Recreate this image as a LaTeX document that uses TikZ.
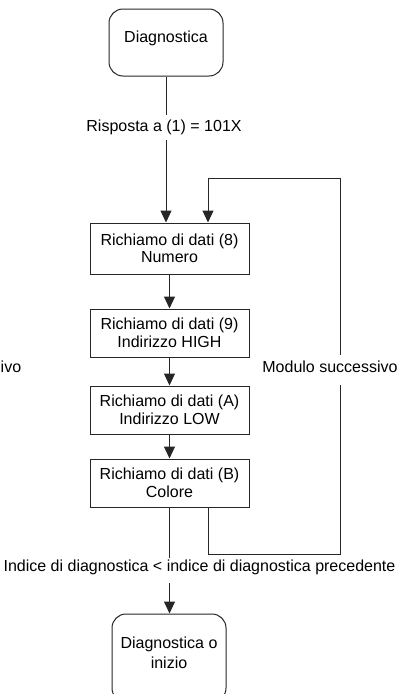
\documentclass[tikz,border=0pt]{standalone}
\usepackage{fontspec}
\setmainfont{Liberation Sans}
\usetikzlibrary{arrows.meta}
\newcommand{\dfs}{\fontsize{16pt}{17.5pt}\selectfont}
\begin{document}
\begin{tikzpicture}[x=1pt,y=-1pt,
  linecol/.style={draw=black!85, line width=1pt},
  box/.style={linecol, minimum width=159pt, minimum height=48pt, align=center, font=\dfs, inner sep=0pt},
  rbox/.style={linecol, rounded corners=14pt, minimum width=114pt, minimum height=67pt, inner sep=0pt},
  txt/.style={font=\dfs, align=center, inner sep=0pt},
  lbl/.style={fill=white, font=\dfs, inner xsep=1pt, text height=11.5pt},
  arr/.style={linecol, -{Triangle[length=12pt,width=11pt]}}]
\useasboundingbox (0,0) rectangle (398,694);
\clip (0,0) rectangle (398,694);
% nodes
\node[rbox] (diag) at (166,42.5) {};
\node[txt, anchor=base] (diagt) at (166,42.7) {Diagnostica};
\node[box, minimum height=51pt] (r8) at (169.5,248.5) {Richiamo di dati (8)\\Numero};
\node[box] (r9) at (169.5,333) {Richiamo di dati (9)\\Indirizzo HIGH};
\node[box] (rA) at (169.5,410) {Richiamo di dati (A)\\Indirizzo LOW};
\node[box] (rB) at (169.5,483) {Richiamo di dati (B)\\Colore};
\node[rbox, minimum height=88pt] (fine) at (169,658) {};
\node[txt, anchor=base] (finet1) at (169,648.7) {Diagnostica o};
\node[txt, anchor=base] (finet2) at (169,668.7) {inizio};
% loop coordinates
\coordinate (loopA) at (208,554);
\coordinate (loopB) at (340,554);
\coordinate (loopC) at (340,178);
\coordinate (loopD) at (208,178);
% connectors
\draw[arr] (diag.south) -- (diag.south |- r8.north);
\draw[arr] (r8.south) -- (r9.north);
\draw[arr] (r9.south) -- (rA.north);
\draw[arr] (rA.south) -- (rB.north);
\draw[arr] (rB.south -| loopA) -- (loopA) -- (loopB) -- (loopC) -- (loopD) -- (loopD |- r8.north);
\draw[arr] (rB.south) -- (rB.south |- fine.north);
% labels
\node[lbl, text depth=3.1pt, inner ysep=5.2pt, anchor=base] (resp) at (164,131.7) {Risposta a (1) = 101X};
\node[lbl, text depth=6.1pt, inner ysep=6.2pt, anchor=base] (modulo) at (330,372.7) {Modulo successivo};
\node[txt, anchor=base west] (ivo) at (0.5,372.7) {ivo};
\node[lbl, text depth=9pt, inner ysep=2.2pt, anchor=base] (indice) at (199.5,571.7) {Indice di diagnostica < indice di diagnostica precedente};
\end{tikzpicture}
\end{document}
